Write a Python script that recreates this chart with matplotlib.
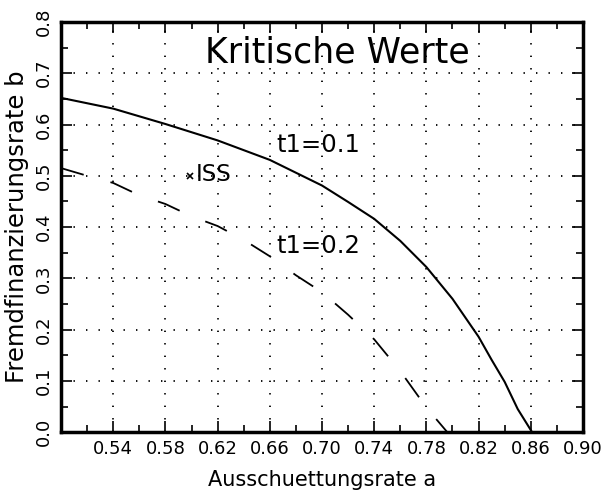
import matplotlib
matplotlib.use('Agg')
from matplotlib import pyplot as plt
from matplotlib.ticker import MultipleLocator, FixedLocator

plt.rcParams['lines.scale_dashes'] = False
plt.rcParams['font.family'] = 'DejaVu Sans'

# t1 = 0.1 (solid)
a_t01 = [0.50, 0.54, 0.58, 0.62, 0.66, 0.68, 0.70, 0.72, 0.74, 0.76,
         0.78, 0.80, 0.82, 0.83, 0.84, 0.85, 0.861]
b_t01 = [0.652, 0.631, 0.601, 0.569, 0.531, 0.506, 0.481, 0.449, 0.416, 0.373,
         0.322, 0.260, 0.186, 0.141, 0.098, 0.045, 0.0]

# t1 = 0.2 (dashed)
a_t02 = [0.50, 0.52, 0.54, 0.56, 0.58, 0.60, 0.62, 0.64, 0.66, 0.68,
         0.70, 0.72, 0.74, 0.76, 0.78, 0.796]
b_t02 = [0.515, 0.500, 0.486, 0.462, 0.445, 0.421, 0.402, 0.375, 0.343, 0.306,
         0.273, 0.229, 0.181, 0.119, 0.048, 0.0]

iss_a, iss_b = 0.599, 0.4995

xticks = [0.54, 0.58, 0.62, 0.66, 0.70, 0.74, 0.78, 0.82, 0.86, 0.90]
yticks = [0.0, 0.1, 0.2, 0.3, 0.4, 0.5, 0.6, 0.7, 0.8]

fig = plt.figure(figsize=(6.06, 4.95), dpi=100)
ax = fig.add_axes([0.1007, 0.127, 0.8613, 0.8286])

ax.plot(a_t01, b_t01, color='black', lw=1.5)
ax.plot(a_t02, b_t02, color='black', lw=1.3, linestyle=(0, (17, 20)))
ax.plot([iss_a], [iss_b], marker='x', color='black', ms=4, mew=1.2)

ax.set_xlim(0.50, 0.90)
ax.set_ylim(0.0, 0.8)
ax.xaxis.set_major_locator(FixedLocator(xticks))
ax.xaxis.set_minor_locator(MultipleLocator(0.02))
ax.yaxis.set_major_locator(FixedLocator(yticks))
ax.yaxis.set_minor_locator(MultipleLocator(0.05))
ax.set_xticklabels(['%.2f' % v for v in xticks], fontsize=13)
ax.set_yticklabels(['%.1f' % v for v in yticks], rotation=90, va='center',
                   fontsize=13)

ax.tick_params(which='both', direction='in', top=True, right=True, width=1.2)
ax.tick_params(which='major', length=8, pad=6)
ax.tick_params(which='minor', length=5)
for s in ax.spines.values():
    s.set_linewidth(2.5)

ax.grid(True, which='major', color='black', lw=1.3, linestyle=(0, (1, 8)))

ax.set_xlabel('Ausschuettungsrate a', fontsize=15, labelpad=8)
ax.set_ylabel('Fremdfinanzierungsrate b', fontsize=17.5, labelpad=4)

ax.text(0.712, 0.72, 'Kritische Werte', fontsize=25, ha='center', va='baseline')
ax.text(0.665, 0.546, 't1=0.1', fontsize=17.5, ha='left', va='baseline')
ax.text(0.665, 0.349, 't1=0.2', fontsize=17.5, ha='left', va='baseline')
ax.text(0.603, 0.49, 'ISS', fontsize=16.5, ha='left', va='baseline')

fig.savefig('out.png', dpi=100)
